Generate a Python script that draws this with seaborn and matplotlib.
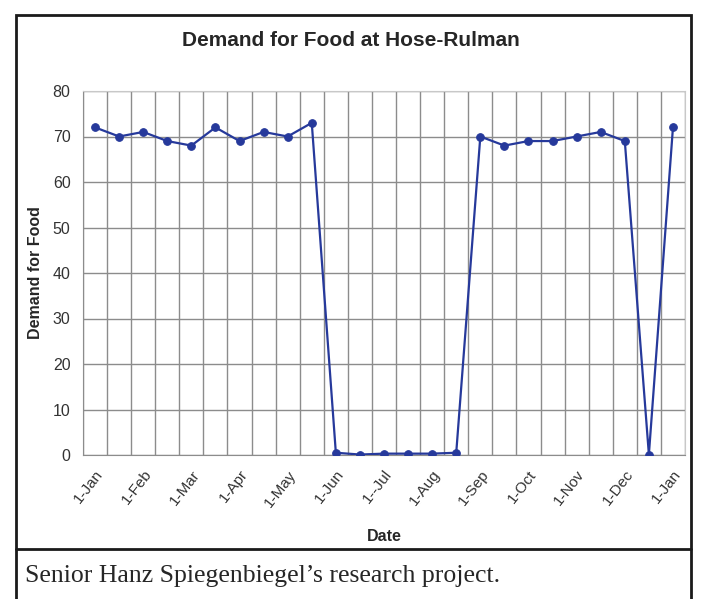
import matplotlib
matplotlib.use("Agg")
import matplotlib.pyplot as plt
import seaborn as sns
import pandas as pd
from matplotlib.lines import Line2D
from matplotlib.patches import Rectangle

# biweekly readings, Jan to Jan
demand = [72, 70, 71, 69, 68, 72, 69, 71, 70, 73,
          0.5, 0.1, 0.3, 0.3, 0.3, 0.5,
          70, 68, 69, 69, 70, 71, 69,
          0.1, 72]
date_labels = ['1-Jan', '1-Feb', '1-Mar', '1-Apr', '1-May', '1-Jun', '1--Jul',
               '1-Aug', '1-Sep', '1-Oct', '1-Nov', '1-Dec', '1-Jan']
y_ticks = [0, 10, 20, 30, 40, 50, 60, 70, 80]

df = pd.DataFrame({'idx': range(len(demand)), 'Demand': demand})

sns.set_style('white')
plt.rcParams['font.family'] = ['Liberation Sans', 'DejaVu Sans']

W, H = 704, 599
fig = plt.figure(figsize=(W / 100, H / 100), dpi=100)
ax = fig.add_axes([83 / W, 1 - 455 / H, (685 - 83) / W, (455 - 91) / H])

grid_c = '#8c8c8c'
line_c = '#26399b'

sns.lineplot(data=df, x='idx', y='Demand', ax=ax, color=line_c, linewidth=1.6,
             marker='o', markersize=5.5, markeredgecolor=line_c, zorder=3)

n = len(demand)
ax.set_xlim(-0.5, n - 0.5)
ax.set_ylim(0, 80)
bounds = [i - 0.5 for i in range(n + 1)]
ax.set_xticks(bounds)
ax.set_xticklabels([''] * len(bounds))
ax.set_xticks(list(range(0, n, 2)), minor=True)
ax.set_xticklabels(date_labels, minor=True, rotation=52, ha='right', va='top',
                   rotation_mode='anchor', fontsize=11, color='#333333')
ax.tick_params(axis='x', which='major', length=4, color=grid_c, width=1)
ax.tick_params(axis='x', which='minor', length=0, pad=9)
ax.set_yticks(y_ticks)
ax.tick_params(axis='y', length=4, color=grid_c, width=1, labelsize=11.5,
               labelcolor='#333333', pad=5)

ax.grid(True, which='major', color=grid_c, linewidth=1)
for side in ['left', 'bottom']:
    ax.spines[side].set_color(grid_c)
for side in ['top', 'right']:
    ax.spines[side].set_color('#c8c8c8')

ax.set_xlabel('Date', fontsize=11.5, fontweight='bold', labelpad=14)
ax.set_ylabel('Demand for Food', fontsize=11.5, fontweight='bold', labelpad=7)
fig.text(351 / W, 1 - 41 / H, 'Demand for Food at Hose-Rulman', ha='center',
         va='center', fontsize=15, fontweight='bold')

# outer frame and caption box
fig.add_artist(Rectangle((16 / W, -0.05), (691 - 16) / W, 1.05 - 15 / H,
                         transform=fig.transFigure, fill=False,
                         edgecolor='#1a1a1a', linewidth=2))
fig.add_artist(Line2D([16 / W, 691 / W], [1 - 549 / H] * 2,
                      transform=fig.transFigure, color='#1a1a1a', linewidth=2))
fig.text(25 / W, 1 - 576 / H, 'Senior Hanz Spiegenbiegel\u2019s research project.',
         ha='left', va='center', fontsize=18.5,
         family=['Liberation Serif', 'DejaVu Serif'])

fig.savefig('out.png', dpi=100)
